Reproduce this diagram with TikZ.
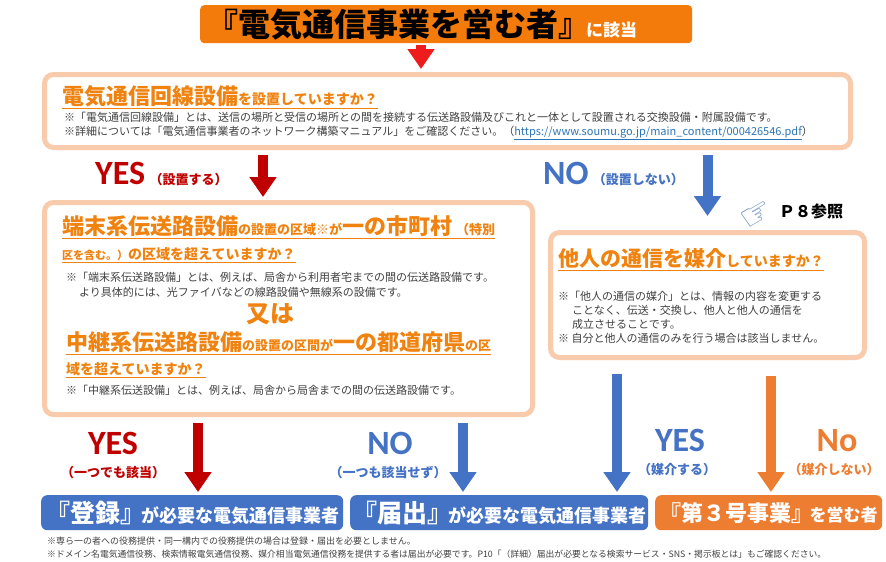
\documentclass[tikz,border=0pt]{standalone}
\usepackage{fontspec}
\setmainfont{Noto Sans CJK JP}
\newfontfamily\yesfont{Carlito}
\newfontfamily\symfont{DejaVu Sans}
\usetikzlibrary{arrows.meta}
\definecolor{banner}{HTML}{F37B0C}
\definecolor{ttl}{HTML}{F0820F}
\definecolor{peach}{HTML}{F8CBAD}
\definecolor{nblue}{HTML}{4472C4}
\definecolor{dred}{HTML}{C00000}
\definecolor{tred}{HTML}{EE1C1C}
\definecolor{nor}{HTML}{ED7D31}
\definecolor{notegray}{HTML}{404040}
\definecolor{url}{HTML}{2E75B6}
\definecolor{hand}{HTML}{6F8FBF}
\newcommand\fsz[1]{\fontsize{#1}{#1}\selectfont}
\begin{document}
\begin{tikzpicture}[x=1pt, y=-1pt,
    qbox/.style={draw=peach, line width=5pt, rounded corners=9pt, fill=white, anchor=north west},
    ttlline/.style={anchor=base west, inner sep=0pt, text=ttl, font=\bfseries},
    note/.style={anchor=base west, inner sep=0pt, text=notegray, font=\fsz{11}},
    uline/.style={draw=ttl, line width=1.3pt},
    bigarrow/.style={line width=10pt, -{Triangle[width=26pt,length=20pt]}},
    yes/.style={anchor=base, inner sep=0pt, font=\yesfont\bfseries\fsz{34}},
    sub/.style={anchor=base, inner sep=0pt, font=\bfseries\fsz{13}},
    endbox/.style={rounded corners=6pt, anchor=north west, text=white, font=\bfseries, inner sep=0pt, minimum height=35pt}]
    \useasboundingbox (0,0) rectangle (886,562);
    \def \gap {3pt}

    \node[fill=banner, rounded corners=4pt, minimum width=492pt, minimum height=38pt, anchor=north west] (top) at (200,5) {};
    \node[anchor=base west, inner sep=0pt, font=\bfseries] (toptxt) at (206,36) {{\fsz{32}『電気通信事業を営む者』}\kern-4pt{\color{white}\fsz{17}に該当}};

    % question 1
    \node[qbox, minimum width=806pt, minimum height=73pt] (q1) at (42,72) {};
    \node[ttlline] (t1) at (62,104) {{\fsz{22}電気通信回線設備}{\fsz{14}を設置していますか？}};
    \draw[uline] ([yshift=-2pt]t1.south west) -- ([yshift=-2pt]t1.south east);
    \node[note] (n1a) at (64,121) {※「電気通信回線設備」とは、送信の場所と受信の場所との間を接続する伝送路設備及びこれと一体として設置される交換設備・附属設備です。};
    \node[note] (n1b) at (64,135) {※詳細については「電気通信事業者のネットワーク構築マニュアル」をご確認ください。（{\color{url}\underline{https://www.soumu.go.jp/main\_content/000426546.pdf}}）};

    % question 2
    \node[qbox, minimum width=488pt, minimum height=212pt] (q2) at (42,200) {};
    \node[ttlline] (t2a) at (62,234) {{\fsz{22}端末系伝送路設備}{\fsz{13}の設置の区域※が}{\fsz{22}一の市町村}\hspace{4pt}{\fsz{13}（特別}};
    \draw[uline] ([yshift=-2pt]t2a.south west) -- ([yshift=-2pt]t2a.south east);
    \node[ttlline] (t2b) at (62,259) {{\fsz{11}区を含む。）}{\fsz{14}の区域を超えていますか？}};
    \draw[uline] ([yshift=-2pt]t2b.south west) -- ([yshift=-2pt]t2b.south east);
    \node[note] (n2a) at (66,281) {※「端末系伝送路設備」とは、例えば、局舎から利用者宅までの間の伝送路設備です。};
    \node[note] (n2b) at (79,296) {より具体的には、光ファイバなどの線路設備や無線系の設備です。};
    \node[anchor=base, inner sep=0pt, text=ttl, font=\bfseries\fsz{24}] (or) at (270,322) {又は};
    \node[ttlline] (t2c) at (66,350) {{\fsz{22}中継系伝送路設備}{\fsz{13}の設置の区間が}{\fsz{22}一の都道府県}{\fsz{13}の区}};
    \draw[uline] ([yshift=-2pt]t2c.south west) -- ([yshift=-2pt]t2c.south east);
    \node[ttlline] (t2d) at (66,374) {{\fsz{14}域を超えていますか？}};
    \draw[uline] ([yshift=-2pt]t2d.south west) -- ([yshift=-2pt]t2d.south east);
    \node[note] (n2c) at (66,394) {※「中継系伝送設備」とは、例えば、局舎から局舎までの間の伝送路設備です。};

    % question 3
    \node[qbox, minimum width=314pt, minimum height=125pt] (q3) at (548,230) {};
    \node[ttlline] (t3) at (558,266) {{\fsz{21}他人の通信を媒介}{\fsz{14}していますか？}};
    \draw[uline] ([yshift=-2pt]t3.south west) -- ([yshift=-2pt]t3.south east);
    \node[note] (n3a) at (558,300) {※「他人の通信の媒介」とは、情報の内容を変更する};
    \node[note] (n3b) at (572,314) {ことなく、伝送・交換し、他人と他人の通信を};
    \node[note] (n3c) at (572,328) {成立させることです。};
    \node[note] (n3d) at (558,342) {※ 自分と他人の通信のみを行う場合は該当しません。};
    \node[font=\symfont\fsz{36}, text=hand, rotate=30, inner sep=0pt] (hand) at (757,216) {☞};
    \node[anchor=base west, inner sep=0pt, font=\bfseries\fsz{16}] (p8) at (779,217) {Ｐ８参照};

    % results
    \node[endbox, fill=nblue, minimum width=302pt] (e1) at (41,495) {{\fsz{25}『登録』}\kern-4pt{\fsz{18}が必要な電気通信事業者}};
    \node[endbox, fill=nblue, minimum width=298pt] (e2) at (350,495) {{\fsz{25}『届出』}\kern-4pt{\fsz{18}が必要な電気通信事業者}};
    \node[endbox, fill=nor, minimum width=227pt] (e3) at (655,495) {{\fsz{22}『第３号事業』}\kern-4pt{\fsz{17}を営む者}};
    \node[note, font=\fsz{9}] (f1) at (47,544) {※専ら一の者への役務提供・同一構内での役務提供の場合は登録・届出を必要としません。};
    \node[note, font=\fsz{8.8}] (f2) at (47,557) {※ドメイン名電気通信役務、検索情報電気通信役務、媒介相当電気通信役務を提供する者は届出が必要です。P10「（詳細）届出が必要となる検索サービス・SNS・掲示板とは」もご確認ください。};

    % arrows
    \coordinate (c0) at (421,0);
    \coordinate (c1) at (263,0);
    \coordinate (c2) at (198,0);
    \coordinate (c3) at (463,0);
    \coordinate (c4) at (617,0);
    \coordinate (c5) at (771,0);
    \draw[bigarrow, tred, shorten <=2pt, shorten >=\gap] (top.south -| c0) -- (q1.north -| c0);
    \draw[bigarrow, dred, shorten <=5pt, shorten >=\gap] (q1.south -| c1) -- (q2.north -| c1);
    \draw[bigarrow, nblue, shorten <=5pt, shorten >=14pt] (q1.south -| q3.north) -- (q3.north);
    \draw[bigarrow, dred, shorten <=6pt, shorten >=\gap] (q2.south -| c2) -- (e1.north -| c2);
    \draw[bigarrow, nblue, shorten <=6pt, shorten >=\gap] (q2.south -| c3) -- (e2.north -| c3);
    \draw[bigarrow, nblue, shorten <=14pt, shorten >=\gap] (q3.south -| c4) -- (e2.north -| c4);
    \draw[bigarrow, nor, shorten <=16pt, shorten >=\gap] (q3.south -| c5) -- (e3.north -| c5);

    % labels
    \node[yes, anchor=base west, text=dred] (y1) at (95,184) {YES};
    \node[sub, anchor=base west, xshift=4pt, text=dred] (y1s) at (y1.base east) {（設置する）};
    \node[yes, anchor=base west, text=nblue] (no1) at (543,184) {NO};
    \node[sub, anchor=base west, xshift=4pt, text=nblue] (no1s) at (no1.base east) {（設置しない）};
    \node[yes, text=dred] (y2) at (113,454) {YES};
    \node[sub, text=dred] (y2s) at (113,477) {（一つでも該当）};
    \node[yes, text=nblue] (no2) at (390,454) {NO};
    \node[sub, text=nblue] (no2s) at (388,477) {（一つも該当せず）};
    \node[yes, text=nblue] (y3) at (680,451) {YES};
    \node[sub, text=nblue] (y3s) at (677,474) {（媒介する）};
    \node[yes, text=nor] (no3) at (837,451) {No};
    \node[sub, text=nor] (no3s) at (834,474) {（媒介しない）};
\end{tikzpicture}
\end{document}
